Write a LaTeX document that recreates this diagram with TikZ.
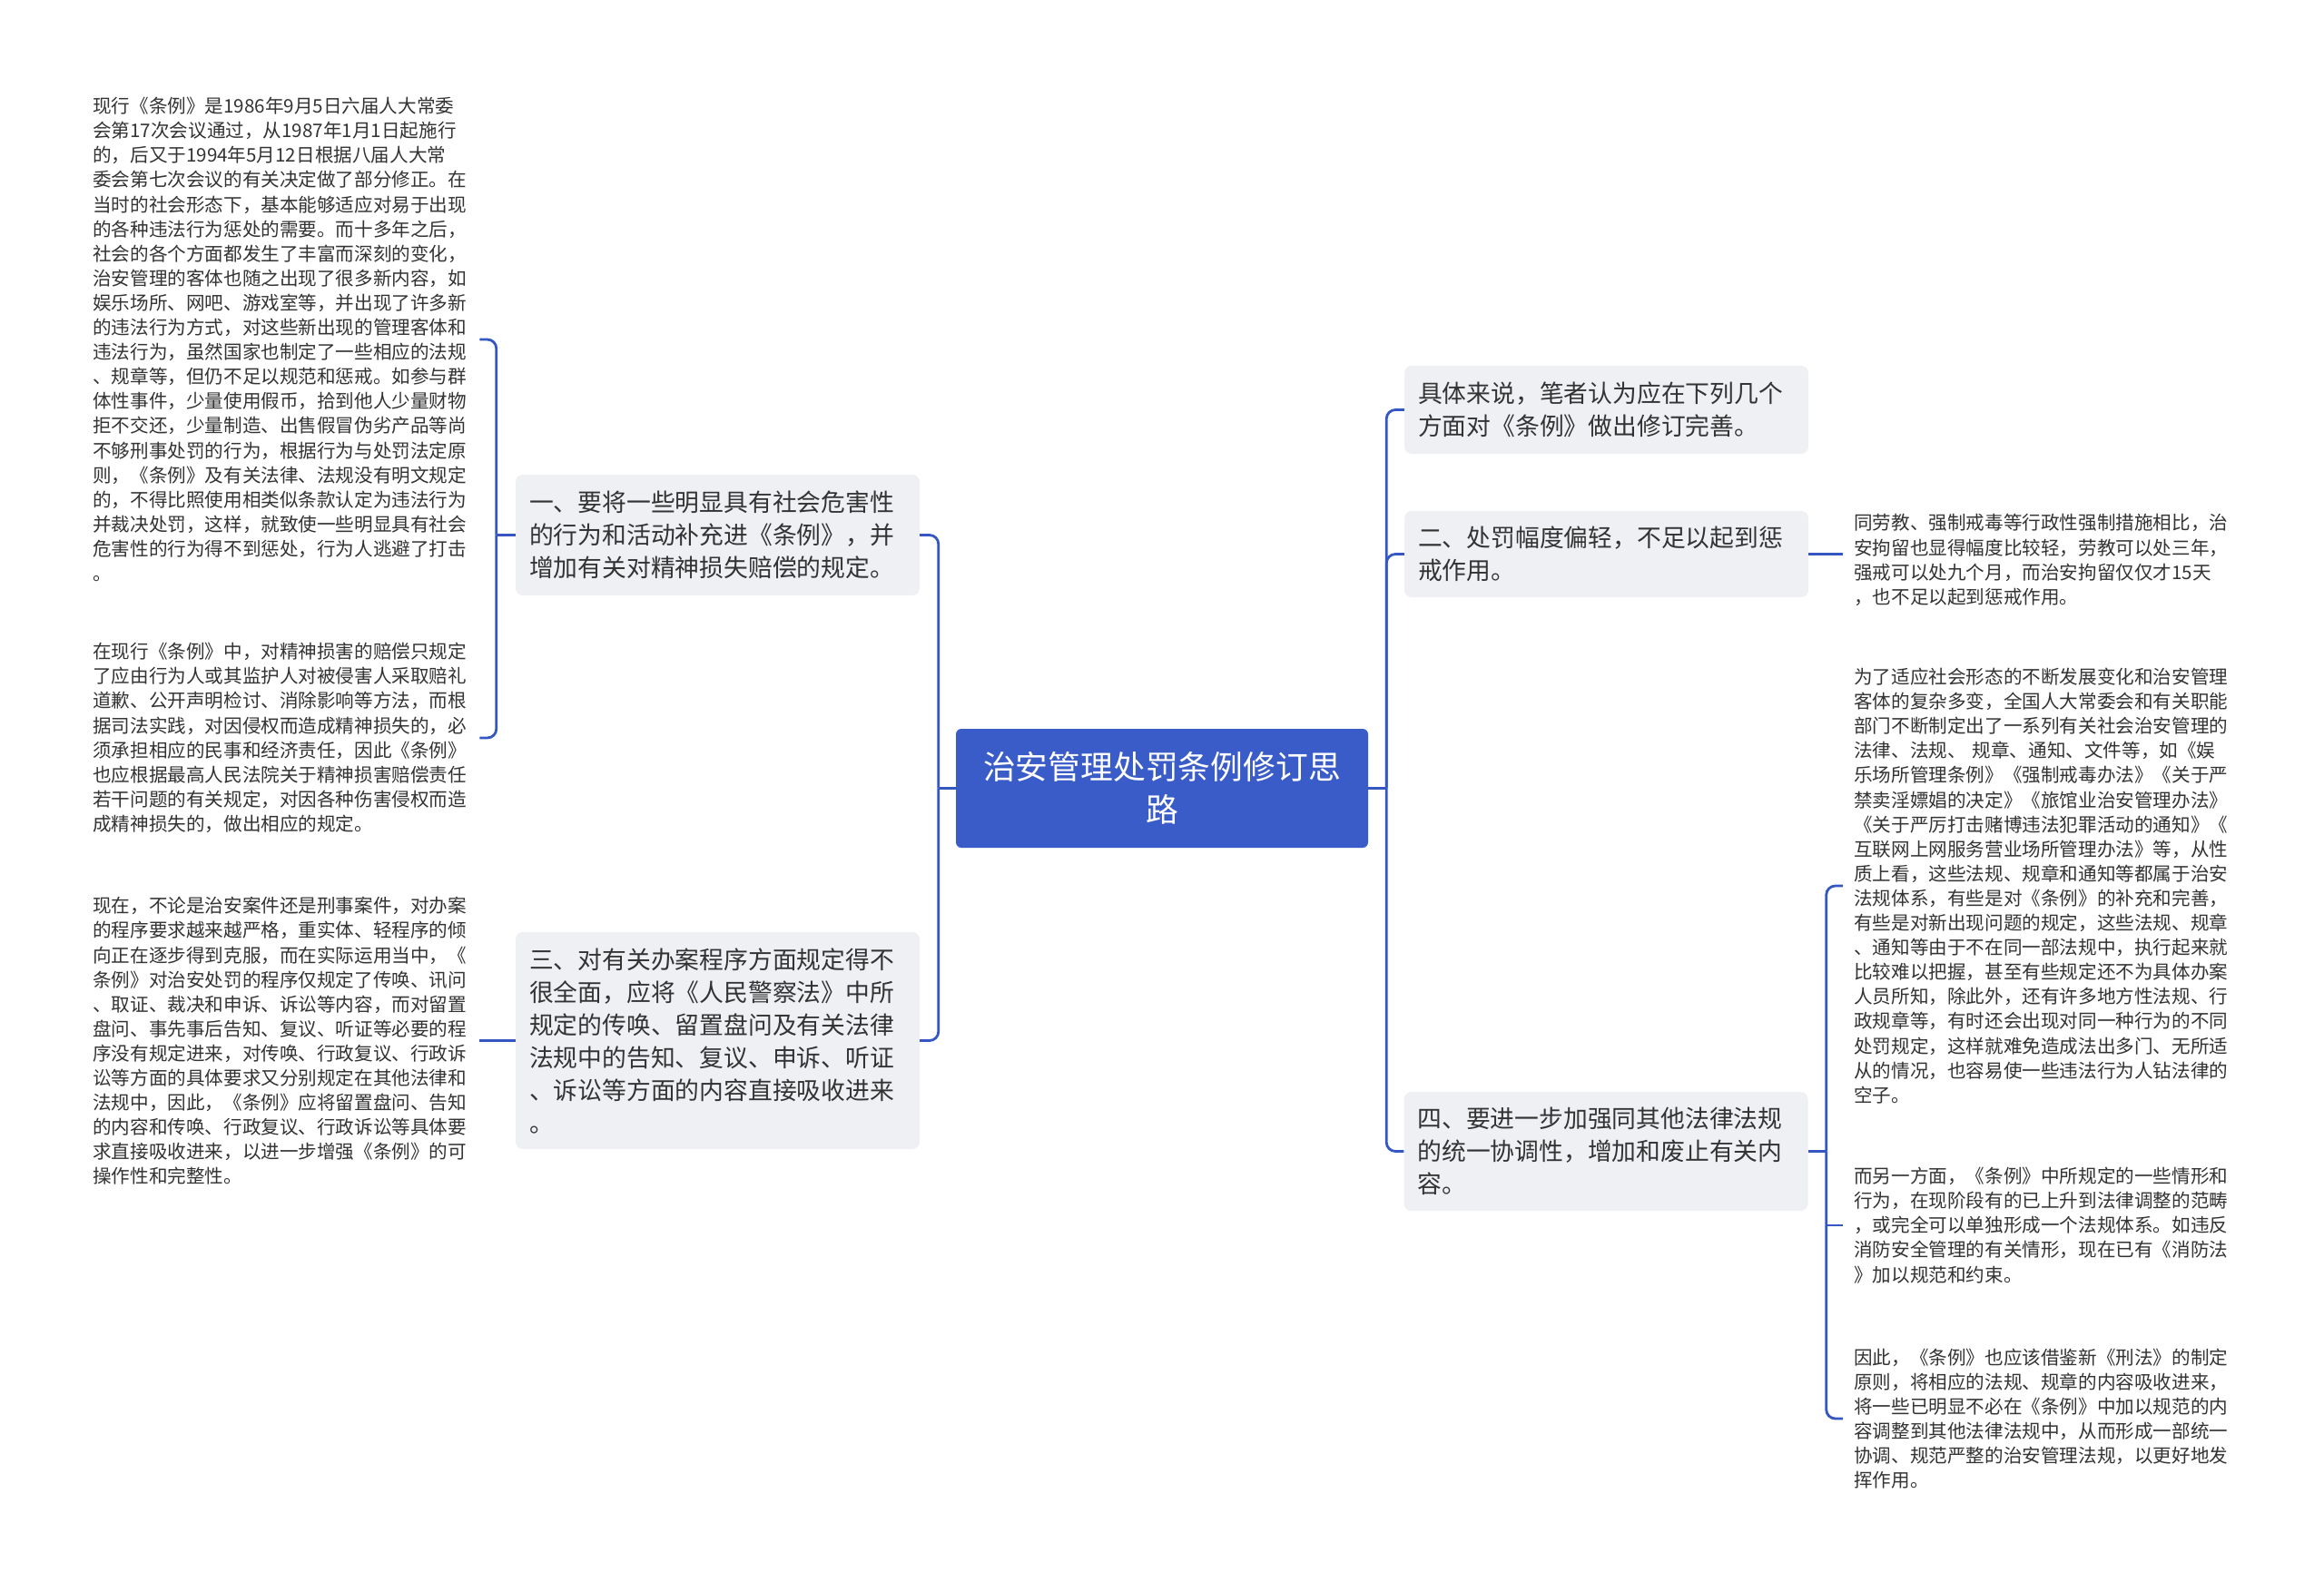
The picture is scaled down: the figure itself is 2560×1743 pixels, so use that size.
\documentclass[tikz,border=0pt]{standalone}
\usepackage{fontspec}
\usepackage{xcolor}
\usepackage{tikz}
\newfontfamily\cjk{Noto Sans CJK SC}
\definecolor{mapblue}{HTML}{3A5CC8}
\definecolor{linkblue}{HTML}{3557C2}
\definecolor{topicgray}{HTML}{EEF0F4}
\definecolor{textgray}{HTML}{333333}
\tikzset{
  root/.style={rectangle, rounded corners=6pt, fill=mapblue, text=white, align=center,
    text width=424pt, inner xsep=15pt, minimum height=131pt, font=\cjk\fontsize{35.8}{46.7}\selectfont},
  topic/.style={rectangle, rounded corners=8pt, fill=topicgray, text=textgray, align=left,
    text width=415pt, inner xsep=15pt, minimum height=#1, font=\cjk\fontsize{26.8}{36}\selectfont},
  leaf/.style={align=left, text=textgray, text width=414pt, inner xsep=12pt, anchor=west,
    font=\cjk\fontsize{20.6}{27.1}\selectfont},
  link/.style={draw=linkblue, line width=2.8pt, rounded corners=10pt}
}

\begin{document}
\begin{tikzpicture}[x=1pt,y=-1pt]
\useasboundingbox[fill=white] (0,0) rectangle (2560,1743);

% Root
\node[root] (root) at (1280,868.5) {治安管理处罚条例修订思\\路};

% Left topics
\node[topic=133pt] (t1) at (790.5,589.5) {一、要将一些明显具有社会危害性\\的行为和活动补充进《条例》，并\\增加有关对精神损失赔偿的规定。};
\node[topic=239pt] (t3) at (790.5,1146.5) {三、对有关办案程序方面规定得不\\很全面，应将《人民警察法》中所\\规定的传唤、留置盘问及有关法律\\法规中的告知、复议、申诉、听证\\、诉讼等方面的内容直接吸收进来\\。};

% Right topics
\node[topic=97pt] (r1) at (1769.5,451.5) {具体来说，笔者认为应在下列几个\\方面对《条例》做出修订完善。};
\node[topic=95pt] (r2) at (1769.5,610.5) {二、处罚幅度偏轻，不足以起到惩\\戒作用。};
\node[topic=131pt] (r4) at (1769,1268.5) {四、要进一步加强同其他法律法规\\的统一协调性，增加和废止有关内\\容。};

% Left leaves
\node[leaf] (l1a) at (90,374) {现行《条例》是1986年9月5日六届人大常委\\会第17次会议通过，从1987年1月1日起施行\\的，后又于1994年5月12日根据八届人大常\\委会第七次会议的有关决定做了部分修正。在\\当时的社会形态下，基本能够适应对易于出现\\的各种违法行为惩处的需要。而十多年之后，\\社会的各个方面都发生了丰富而深刻的变化，\\治安管理的客体也随之出现了很多新内容，如\\娱乐场所、网吧、游戏室等，并出现了许多新\\的违法行为方式，对这些新出现的管理客体和\\违法行为，虽然国家也制定了一些相应的法规\\、规章等，但仍不足以规范和惩戒。如参与群\\体性事件，少量使用假币，拾到他人少量财物\\拒不交还，少量制造、出售假冒伪劣产品等尚\\不够刑事处罚的行为，根据行为与处罚法定原\\则，《条例》及有关法律、法规没有明文规定\\的，不得比照使用相类似条款认定为违法行为\\并裁决处罚，这样，就致使一些明显具有社会\\危害性的行为得不到惩处，行为人逃避了打击\\。};
\node[leaf] (l1b) at (90,813) {在现行《条例》中，对精神损害的赔偿只规定\\了应由行为人或其监护人对被侵害人采取赔礼\\道歉、公开声明检讨、消除影响等方法，而根\\据司法实践，对因侵权而造成精神损失的，必\\须承担相应的民事和经济责任，因此《条例》\\也应根据最高人民法院关于精神损害赔偿责任\\若干问题的有关规定，对因各种伤害侵权而造\\成精神损失的，做出相应的规定。};
\node[leaf] (l3) at (90,1147) {现在，不论是治安案件还是刑事案件，对办案\\的程序要求越来越严格，重实体、轻程序的倾\\向正在逐步得到克服，而在实际运用当中，《\\条例》对治安处罚的程序仅规定了传唤、讯问\\、取证、裁决和申诉、诉讼等内容，而对留置\\盘问、事先事后告知、复议、听证等必要的程\\序没有规定进来，对传唤、行政复议、行政诉\\讼等方面的具体要求又分别规定在其他法律和\\法规中，因此，《条例》应将留置盘问、告知\\的内容和传唤、行政复议、行政诉讼等具体要\\求直接吸收进来，以进一步增强《条例》的可\\操作性和完整性。};

% Right leaves
\node[leaf] (r2a) at (2030,617) {同劳教、强制戒毒等行政性强制措施相比，治\\安拘留也显得幅度比较轻，劳教可以处三年，\\强戒可以处九个月，而治安拘留仅仅才15天\\，也不足以起到惩戒作用。};
\node[leaf] (r4a) at (2030,976) {为了适应社会形态的不断发展变化和治安管理\\客体的复杂多变，全国人大常委会和有关职能\\部门不断制定出了一系列有关社会治安管理的\\法律、法规、 规章、通知、文件等，如《娱\\乐场所管理条例》《强制戒毒办法》《关于严\\禁卖淫嫖娼的决定》《旅馆业治安管理办法》\\《关于严厉打击赌博违法犯罪活动的通知》《\\互联网上网服务营业场所管理办法》等，从性\\质上看，这些法规、规章和通知等都属于治安\\法规体系，有些是对《条例》的补充和完善，\\有些是对新出现问题的规定，这些法规、规章\\、通知等由于不在同一部法规中，执行起来就\\比较难以把握，甚至有些规定还不为具体办案\\人员所知，除此外，还有许多地方性法规、行\\政规章等，有时还会出现对同一种行为的不同\\处罚规定，这样就难免造成法出多门、无所适\\从的情况，也容易使一些违法行为人钻法律的\\空子。};
\node[leaf] (r4b) at (2030,1350) {而另一方面，《条例》中所规定的一些情形和\\行为，在现阶段有的已上升到法律调整的范畴\\，或完全可以单独形成一个法规体系。如违反\\消防安全管理的有关情形，现在已有《消防法\\》加以规范和约束。};
\node[leaf] (r4c) at (2030,1563) {因此，《条例》也应该借鉴新《刑法》的制定\\原则，将相应的法规、规章的内容吸收进来，\\将一些已明显不必在《条例》中加以规范的内\\容调整到其他法律法规中，从而形成一部统一\\协调、规范严整的治安管理法规，以更好地发\\挥作用。};

% Root connectors
\path (root.west) ++(-19,0) coordinate (hubL);
\path (root.east) ++(20,0) coordinate (hubR);
\draw[link] (root.west) -- (hubL);
\draw[link] (root.east) -- (hubR);
\foreach \t in {t1,t3}
    \draw[link] (hubL) |- (\t.east);
\foreach \t in {r1,r2,r4}
    \draw[link] (hubR) |- (\t.west);

% Leaf connectors
\path (t1.west) ++(-21,0) coordinate (b1);
\draw[link] (t1.west) -- (b1);
\foreach \l in {l1a,l1b}
    \draw[link] (b1) |- (\l.east);
\draw[link] (t3.west) -- (t3.west -| l3.east);
\draw[link] (r2.east) -- (r2.east -| r2a.west);
\path (r4.east) ++(20,0) coordinate (b4);
\draw[link] (r4.east) -- (b4);
\foreach \l in {r4a,r4c}
    \draw[link] (b4) |- (\l.west);
\draw[link] (b4 |- r4b.west) -- (r4b.west);
\end{tikzpicture}
\end{document}
